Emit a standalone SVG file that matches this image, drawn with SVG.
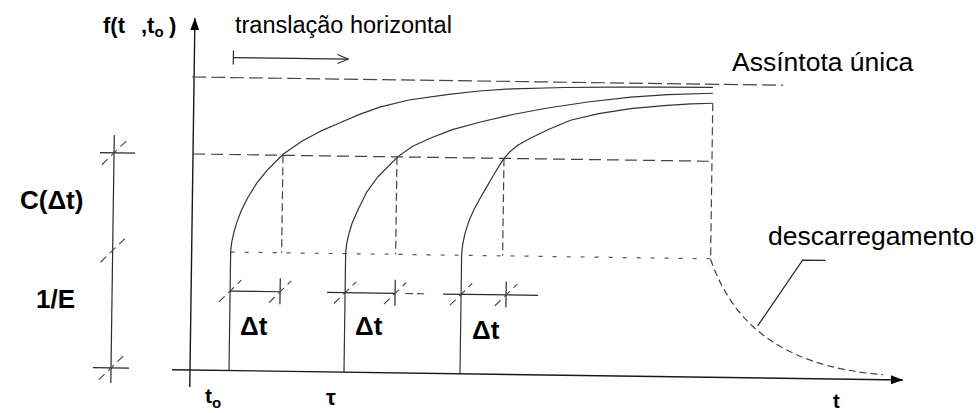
<svg xmlns="http://www.w3.org/2000/svg" width="979" height="413" viewBox="0 0 979 413">
<style>
  .ax{fill:none;stroke:#1a1a1a;stroke-width:1.4}
  .cv{fill:none;stroke:#333;stroke-width:1.2;stroke-linejoin:round}
  .dim{fill:none;stroke:#2a2a2a;stroke-width:1.2}
  .sl{fill:none;stroke:#444;stroke-width:1.1;stroke-dasharray:8 5}
  .asy{fill:none;stroke:#444;stroke-width:1.2;stroke-dasharray:14 5}
  .lev{fill:none;stroke:#444;stroke-width:1.2;stroke-dasharray:12 6}
  .lev2{fill:none;stroke:#555;stroke-width:1.2;stroke-dasharray:4 10}
  .vd{fill:none;stroke:#444;stroke-width:1.2;stroke-dasharray:8 4}
  .rec{fill:none;stroke:#444;stroke-width:1.2;stroke-dasharray:7 4}
  text{font-family:"Liberation Sans",Arial,sans-serif;fill:#000}
  .b{font-weight:bold}
</style>
<defs>
  <marker id="tri" viewBox="0 0 12 9" refX="12" refY="4.5" markerWidth="12" markerHeight="9" markerUnits="userSpaceOnUse" orient="auto">
    <path d="M0,0 L12,4.5 L0,9 Z" fill="#000"/>
  </marker>
  <marker id="open" viewBox="0 0 13 11" refX="12" refY="5.5" markerWidth="13" markerHeight="11" markerUnits="userSpaceOnUse" orient="auto">
    <path d="M1,1 L12,5.5 L1,10" fill="none" stroke="#333" stroke-width="1.1"/>
  </marker>
</defs>
<g transform="rotate(0.8 190 370)">
  <g id="axes">
    <line class="ax" x1="190" y1="387" x2="190" y2="18" marker-end="url(#tri)"/>
    <line class="ax" x1="172" y1="370" x2="903" y2="370" marker-end="url(#tri)"/>
  </g>
  <g id="connectors">
    <line class="asy" x1="188" y1="77" x2="779" y2="77"/>
    <line class="lev" x1="190" y1="154" x2="709" y2="154"/>
    <line class="lev2" x1="229" y1="251.5" x2="709" y2="251.5"/>
    <line class="vd" x1="280" y1="154" x2="280" y2="251.5"/>
    <line class="vd" x1="394" y1="154" x2="394" y2="251.5"/>
    <line class="vd" x1="501" y1="154" x2="501" y2="251.5"/>
    <line class="dim" x1="229" y1="50" x2="229" y2="64"/>
    <line class="dim" x1="229" y1="57" x2="344" y2="57" marker-end="url(#open)"/>
    <line class="dim" x1="111" y1="136" x2="111" y2="384"/>
    <line class="dim" x1="97" y1="154" x2="132" y2="154"/>
    <line class="dim" x1="93" y1="369" x2="129" y2="369"/>
    <line class="sl" x1="99" y1="166" x2="123" y2="142"/>
    <line class="sl" x1="99" y1="263.5" x2="123" y2="239.5"/>
    <line class="sl" x1="99" y1="381" x2="123" y2="357"/>
    <line class="dim" x1="229" y1="290.5" x2="279" y2="290.5"/>
    <line class="dim" x1="326" y1="290.5" x2="394" y2="290.5"/>
    <line class="vd" x1="404" y1="290.5" x2="423" y2="290.5"/>
    <line class="dim" x1="442" y1="290.5" x2="537" y2="290.5"/>
    <line class="dim" x1="279" y1="277" x2="279" y2="303"/>
    <line class="dim" x1="394" y1="277" x2="394" y2="303"/>
    <line class="dim" x1="505" y1="277" x2="505" y2="303"/>
    <line class="sl" x1="218" y1="301.5" x2="240" y2="279.5"/>
    <line class="sl" x1="268" y1="301.5" x2="290" y2="279.5"/>
    <line class="sl" x1="333" y1="301.5" x2="355" y2="279.5"/>
    <line class="sl" x1="383" y1="301.5" x2="405" y2="279.5"/>
    <line class="sl" x1="449" y1="301.5" x2="471" y2="279.5"/>
    <line class="sl" x1="494" y1="301.5" x2="516" y2="279.5"/>
    <polyline class="dim" points="757,318 801,251.5 824,251.5"/>
  </g>
  <g id="curve1">
    <path class="cv" d="M229,370 L229,250 L230,241.2 L232,231.5 L235,221 L239,210 L245,197.5 L254,182.5 L264,169.5 L280,153 L299,139.5 L319,128.5 L336,121 L356,112 L376,104.5 L405,97 L443,91 L475,87 L509,84.3 L560,82.3 L609,81.2 L660,80.6 L709,80.2"/>
  </g>
  <g id="curve2">
    <path class="cv" d="M344,370 L344,250 L345,241 L347,231.5 L350,221 L355.5,208 L364,190 L375,174.4 L394.7,154 L409,143.5 L427.5,134.6 L449,126 L477,118 L509,110 L544,103 L584,96.5 L627,91 L664,88 L709,86"/>
  </g>
  <g id="curve3">
    <path class="cv" d="M460,370 L460,250 L461,240 L463,230 L465,223 L468,214 L472,205 L477,195.5 L484,183 L492,168.8 L500,155.5 L507,147 L515,140.5 L527,133.5 L545,124.5 L567,115 L595,108 L627,102.5 L660,99 L687,97 L709,96"/>
  </g>
  <g id="unloading">
    <line class="vd" x1="709" y1="96" x2="709" y2="252"/>
    <path class="rec" d="M709,252 C730,310 775,358 883,365"/>
  </g>
</g>
<g id="labels">
  <text class="b" x="103" y="33" font-size="22">f(t<tspan x="141">,t</tspan><tspan font-size="15" dy="4">o</tspan><tspan x="169" dy="-4">)</tspan></text>
  <text x="235" y="33" font-size="23.5">translação horizontal</text>
  <text x="732" y="71" font-size="26.5">Assíntota única</text>
  <text x="768" y="245" font-size="26.5">descarregamento</text>
  <text class="b" x="20" y="209" font-size="26">C(Δt)</text>
  <text class="b" x="36" y="308" font-size="26">1/E</text>
  <text class="b" x="240" y="335" font-size="26">Δt</text>
  <text class="b" x="355" y="335" font-size="26">Δt</text>
  <text class="b" x="472" y="339" font-size="26">Δt</text>
  <text class="b" x="205" y="403" font-size="21">t<tspan font-size="15" dy="5">o</tspan></text>
  <text class="b" x="326" y="405" font-size="22">τ</text>
  <text class="b" x="833" y="408" font-size="20">t</text>
</g>
</svg>
